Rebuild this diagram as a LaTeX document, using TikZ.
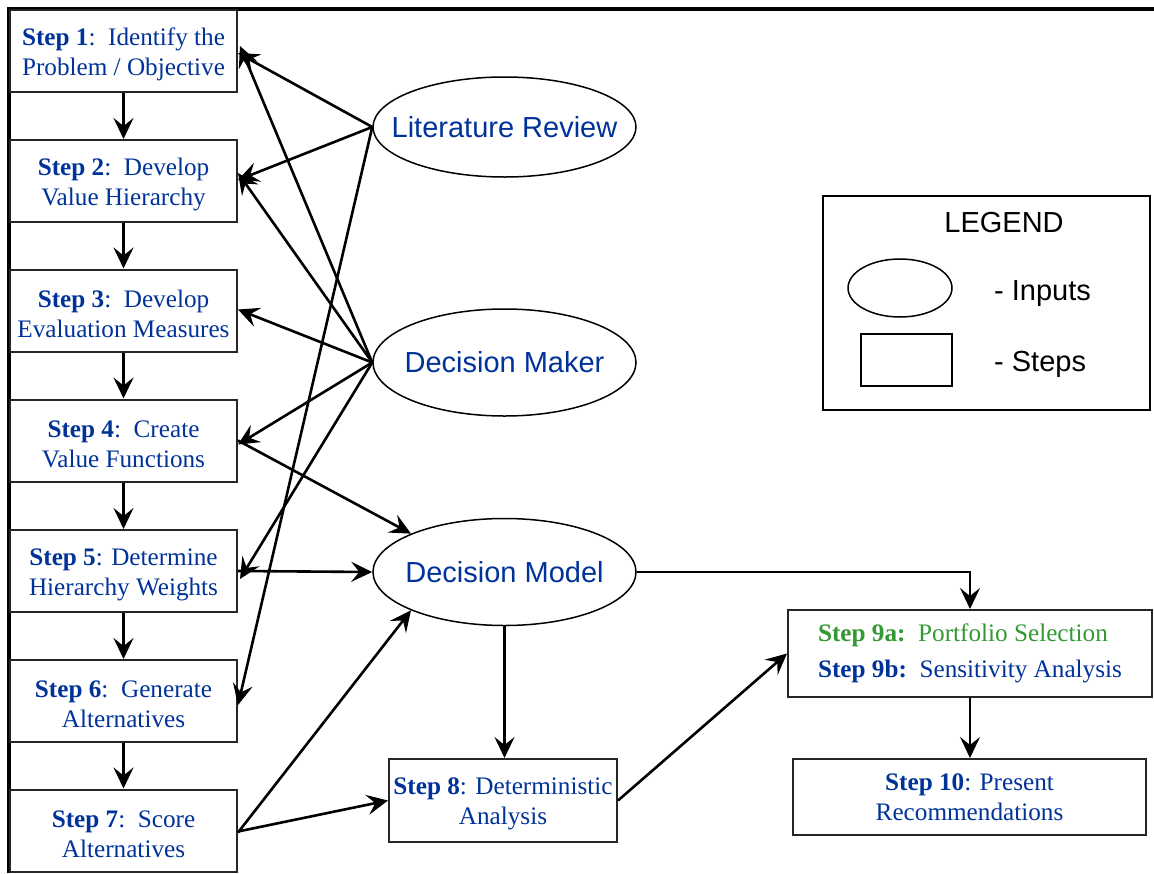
\documentclass[tikz,border=0pt]{standalone}
\usepackage{fontspec}
\setmainfont{Liberation Serif}
\setsansfont{Liberation Sans}
\usetikzlibrary{shapes.geometric,arrows.meta,calc}
\definecolor{stepblue}{RGB}{0,51,153}
\definecolor{stepgreen}{RGB}{51,153,51}
\newcommand{\mystrut}{\rule{0pt}{24pt}}
\begin{document}
\begin{tikzpicture}[x=1pt,y=-1pt,
  stepbox/.style={draw=black!85, line width=2pt, rectangle, minimum width=227pt, minimum height=82pt, inner sep=0pt, align=center, text=stepblue, font=\fontsize{25.2}{30}\selectfont},
  inbox/.style={draw=black, line width=1.5pt, ellipse, minimum width=263pt, minimum height=107pt, inner xsep=-30pt, inner ysep=0pt, text=stepblue, font=\sffamily\fontsize{29}{30}\selectfont},
  conn/.style={line width=2.6pt, -{Stealth[length=21pt,width=20pt,inset=8pt]}},
  legtext/.style={font=\sffamily\fontsize{29}{30}\selectfont, inner sep=0pt},
  ]
\useasboundingbox (0,0) rectangle (1154,873);
\fill[white] (0,0) rectangle (1154,873);
% frame
\draw[line width=4pt] (9,873) -- (9,9) -- (1154,9);

% steps
\node[stepbox] (s1) at (123.5,51) {\mystrut\textbf{Step 1}:\ \ Identify the\\Problem / Objective};
\node[stepbox] (s2) at (123.5,181) {\mystrut\textbf{Step 2}:\ \ Develop\\Value Hierarchy};
\node[stepbox] (s3) at (123.5,310.5) {\mystrut\textbf{Step 3}:\ \ Develop\\Evaluation Measures};
\node[stepbox] (s4) at (123.5,440.5) {\mystrut\textbf{Step 4}:\ \ Create\\Value Functions};
\node[stepbox] (s5) at (123.5,571) {\mystrut\textbf{Step 5}: Determine\\Hierarchy Weights};
\node[stepbox] (s6) at (123.5,701) {\mystrut\textbf{Step 6}:\ \ Generate\\Alternatives};
\node[stepbox] (s7) at (123.5,830.5) {\mystrut\textbf{Step 7}:\ \ Score\\Alternatives};
\node[stepbox, minimum width=228pt, minimum height=83pt] (s8) at (503,800.5) {\mystrut\textbf{Step 8}: Deterministic\\Analysis};
\node[stepbox, minimum width=364pt, minimum height=87pt, font=\fontsize{25.2}{36}\selectfont, align=left] (s9) at (970,653.5)
  {\textcolor{stepgreen}{\textbf{Step 9a:}\ \ Portfolio Selection}\\\textbf{Step 9b:}\ \ Sensitivity Analysis};
\node[stepbox, minimum width=353pt, minimum height=76pt] (s10) at (969.5,797) {\textbf{Step 10}: Present\\Recommendations};

% inputs
\node[inbox, minimum height=100pt] (lr) at (504.5,127) {Literature Review};
\node[inbox] (dm) at (504.5,362.5) {Decision Maker};
\node[inbox] (dmod) at (504.5,572) {Decision Model};

% legend
\node[draw=black, line width=2pt, rectangle, minimum width=327pt, minimum height=214pt, inner sep=0pt] (leg) at (986.5,303) {};
\node[legtext] (legt) at (1004,223) {LEGEND};
\node[draw=black, line width=1.5pt, ellipse, minimum width=104pt, minimum height=58pt, inner sep=0pt] (lege) at (900,288) {};
\node[draw=black, line width=1.5pt, rectangle, minimum width=91pt, minimum height=52pt, inner sep=0pt] (legr) at (906.5,360) {};
\node[legtext, anchor=west] (legi) at (994,294) {- Inputs};
\node[legtext, anchor=west] (legs) at (994,364) {- Steps};

% step chain
\foreach \a/\b in {s1/s2,s2/s3,s3/s4,s4/s5,s5/s6,s6/s7}
  \draw[conn] (\a.south) -- (\b.north);

% literature review
\draw[conn] (lr.west) -- ([yshift=-2pt]s1.east);
\draw[conn] (lr.west) -- ([yshift=1pt]s2.east);
\draw[conn] (lr.west) -- ([yshift=-4pt]s6.east);

% decision maker
\draw[conn] (dm.west) -- ([xshift=2pt,yshift=5pt]s1.east);
\draw[conn] (dm.west) -- ([yshift=8pt]s2.east);
\draw[conn] (dm.west) -- ([yshift=1pt]s3.east);
\draw[conn] (dm.west) -- ([yshift=-4pt]s4.east);
\draw[conn] (dm.west) -- ([xshift=2pt,yshift=-8pt]s5.east);

% decision model inputs
\draw[conn] (s4.east) -- (dmod.north west);
\draw[conn] (s5.east) -- (dmod.west);
\draw[conn] ([yshift=-2pt]s7.east) -- (dmod.south west);
\draw[conn] ([yshift=-1pt]s7.east) -- (s8.west);

% outputs
\draw[conn] (dmod.south) -- (dmod.south |- s8.north);
\draw[conn] (s8.east) -- (s9.west);
\draw[conn] (dmod.east) -- (dmod.east -| s9.north) -- (s9.north);
\draw[conn] (s9.south) -- (s10.north -| s9.south);
\end{tikzpicture}
\end{document}
